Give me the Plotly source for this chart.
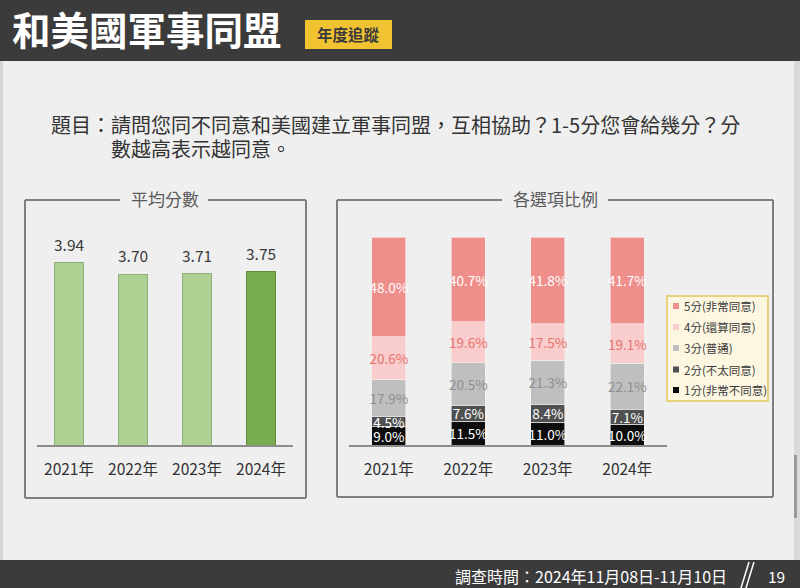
import plotly.graph_objects as go

# ---------------- data ----------------
years = ["2021年", "2022年", "2023年", "2024年"]
avg_scores = [3.94, 3.70, 3.71, 3.75]

option_names = ["1分(非常不同意)", "2分(不太同意)", "3分(普通)", "4分(還算同意)", "5分(非常同意)"]
pct_1 = [9.0, 11.5, 11.0, 10.0]
pct_2 = [4.5, 7.6, 8.4, 7.1]
pct_3 = [17.9, 20.5, 21.3, 22.1]
pct_4 = [20.6, 19.6, 17.5, 19.1]
pct_5 = [48.0, 40.7, 41.8, 41.7]

title_text = "和美國軍事同盟"
tag_text = "年度追蹤"
question_line1 = "題目：請問您同不同意和美國建立軍事同盟，互相協助？1-5分您會給幾分？分"
question_line2 = "數越高表示越同意。"
left_title = "平均分數"
right_title = "各選項比例"
footer_text = "調查時間：2024年11月08日-11月10日"
page_no = "19"

# ---------------- styles ----------------
W, H = 800, 588
FONT = "Noto Sans CJK TC, Noto Sans, sans-serif"
BG = "#efefef"
DARK = "#3b3b3b"
seg_colors = ["#0d0d0d", "#505050", "#bfbfbf", "#f8cdcc", "#ef8f8c"]
seg_text_colors = ["#ffffff", "#ffffff", "#8f8f8f", "#e7716f", "#ffffff"]
avg_colors = ["#aed193", "#aed193", "#aed193", "#79ab50"]
avg_line_colors = ["#8fb078", "#8fb078", "#8fb078", "#5f8d3e"]


def px(x):
    return x / W


def py(y):
    return 1 - y / H


fig = go.Figure()

# left: average score bars
fig.add_trace(go.Bar(
    x=years, y=avg_scores, width=0.44,
    marker=dict(color=avg_colors, line=dict(color=avg_line_colors, width=1)),
    xaxis="x", yaxis="y", showlegend=False, hoverinfo="x+y",
))

# right: stacked percentages
series = [pct_1, pct_2, pct_3, pct_4, pct_5]
for name, vals, col, tcol in zip(option_names, series, seg_colors, seg_text_colors):
    fig.add_trace(go.Bar(
        x=years, y=vals, name=name, width=0.43,
        marker=dict(color=col, line=dict(color="#f4f4f4", width=0.6)),
        text=[f"{v:.1f}%" for v in vals], texttemplate="%{text}",
        textposition="inside", insidetextanchor="middle", textangle=0,
        textfont=dict(color=tcol, size=13.5, family=FONT),
        xaxis="x2", yaxis="y2", showlegend=False,
    ))

shapes = []
annotations = []

# header / footer bars
shapes.append(dict(type="rect", xref="paper", yref="paper", x0=0, x1=1, y0=py(61), y1=1,
                   fillcolor=DARK, line=dict(width=0), layer="below"))
shapes.append(dict(type="rect", xref="paper", yref="paper", x0=0, x1=1, y0=0, y1=py(560),
                   fillcolor=DARK, line=dict(width=0), layer="below"))
# edge strips
shapes.append(dict(type="rect", xref="paper", yref="paper", x0=0, x1=px(3), y0=py(560), y1=py(61),
                   fillcolor="#d6d6d6", line=dict(width=0), layer="below"))
shapes.append(dict(type="rect", xref="paper", yref="paper", x0=px(794), x1=1, y0=py(560), y1=py(61),
                   fillcolor="#dadada", line=dict(width=0), layer="below"))
shapes.append(dict(type="rect", xref="paper", yref="paper", x0=px(794), x1=px(797), y0=py(518), y1=py(455),
                   fillcolor="#9a9a9a", line=dict(width=0), layer="below"))
# tag box
shapes.append(dict(type="rect", xref="paper", yref="paper", x0=px(305), x1=px(392), y0=py(49), y1=py(20),
                   fillcolor="#f1c232", line=dict(width=0)))

annotations.append(dict(text=f"<b>{title_text}</b>", x=px(10), y=py(28), xref="paper", yref="paper",
                        xanchor="left", yanchor="middle", showarrow=False,
                        font=dict(size=38.5, color="#ffffff", family=FONT)))
annotations.append(dict(text=f"<b>{tag_text}</b>", x=px(348.5), y=py(34.5), xref="paper", yref="paper",
                        xanchor="center", yanchor="middle", showarrow=False,
                        font=dict(size=15.5, color="#3a3a3a", family=FONT)))

# question
annotations.append(dict(text=question_line1, x=px(49), y=py(124), xref="paper", yref="paper",
                        xanchor="left", yanchor="middle", showarrow=False,
                        font=dict(size=20, color="#333333", family=FONT)))
annotations.append(dict(text=question_line2, x=px(109), y=py(148), xref="paper", yref="paper",
                        xanchor="left", yanchor="middle", showarrow=False,
                        font=dict(size=20, color="#333333", family=FONT)))

# panel boxes with title gaps
BOX = dict(color="#7f7f7f", width=2)


def panel(x0, x1, y0, y1, g0, g1):
    segs = [(x0, y0, x0, y1), (x0, y1, x1, y1), (x1, y1, x1, y0), (x0, y0, g0, y0), (g1, y0, x1, y0)]
    for a, b, c, d in segs:
        shapes.append(dict(type="line", xref="paper", yref="paper", x0=px(a), y0=py(b), x1=px(c), y1=py(d),
                           line=BOX))


panel(25, 306, 200, 498, 120, 208)
panel(337, 773, 200, 497, 502, 608)
annotations.append(dict(text=left_title, x=px(165), y=py(198), xref="paper", yref="paper",
                        xanchor="center", yanchor="middle", showarrow=False,
                        font=dict(size=17, color="#5a5a5a", family=FONT)))
annotations.append(dict(text=right_title, x=px(555), y=py(198), xref="paper", yref="paper",
                        xanchor="center", yanchor="middle", showarrow=False,
                        font=dict(size=17, color="#5a5a5a", family=FONT)))

# average value labels
for yr, v in zip(years, avg_scores):
    annotations.append(dict(text=f"{v:.2f}", x=yr, y=v, xref="x", yref="y", xanchor="center",
                            yanchor="bottom", yshift=6, showarrow=False,
                            font=dict(size=15.5, color="#3a3a3a", family=FONT)))

# legend (manual)
shapes.append(dict(type="rect", xref="paper", yref="paper", x0=px(667), x1=px(768), y0=py(401), y1=py(296),
                   fillcolor="#fdf7e2", line=dict(color="#e8d37c", width=2)))
legend_rows = [306, 327, 348, 369.5, 390]
for i, (name, col) in enumerate(zip(option_names[::-1], seg_colors[::-1])):
    yy = legend_rows[i]
    shapes.append(dict(type="rect", xref="paper", yref="paper", x0=px(673), x1=px(679),
                       y0=py(yy + 3), y1=py(yy - 3), fillcolor=col, line=dict(width=0)))
    annotations.append(dict(text=name, x=px(682), y=py(yy), xref="paper", yref="paper",
                            xanchor="left", yanchor="middle", showarrow=False,
                            font=dict(size=11.5, color="#3a3a3a", family=FONT)))

# footer
annotations.append(dict(text=footer_text, x=px(729), y=py(576), xref="paper", yref="paper",
                        xanchor="right", yanchor="middle", showarrow=False,
                        font=dict(size=16, color="#ffffff", family=FONT)))
annotations.append(dict(text=page_no, x=px(776), y=py(576), xref="paper", yref="paper",
                        xanchor="center", yanchor="middle", showarrow=False,
                        font=dict(size=15.5, color="#ffffff", family=FONT)))
for dx in (0, 5):
    shapes.append(dict(type="line", xref="paper", yref="paper", x0=px(741 + dx), y0=py(588),
                       x1=px(749 + dx), y1=py(562), line=dict(color="#ffffff", width=1.5)))

axis_common = dict(type="category", range=[-0.5, 3.5], showline=True, linecolor="#8c8c8c", linewidth=1.5,
                   showgrid=False, zeroline=False, ticks="", ticklabelstandoff=10,
                   tickfont=dict(size=15.5, color="#333333", family=FONT), fixedrange=True)

fig.update_layout(
    width=W, height=H, margin=dict(l=0, r=0, t=0, b=0),
    paper_bgcolor=BG, plot_bgcolor="rgba(0,0,0,0)",
    barmode="stack", showlegend=False,
    font=dict(family=FONT),
    uniformtext=dict(minsize=13.5, mode="show"),
    xaxis=dict(domain=[px(37), px(293)], anchor="y", **axis_common),
    yaxis=dict(domain=[py(445), py(215)], range=[0, 230 / 46.2], visible=False, fixedrange=True),
    xaxis2=dict(domain=[px(349), px(667)], anchor="y2", **axis_common),
    yaxis2=dict(domain=[py(445), py(237)], range=[0, 100], visible=False, fixedrange=True),
    shapes=shapes, annotations=annotations,
)

fig.write_html(
    "out.html",
    config={"displayModeBar": False},
    post_script="document.body.style.margin='0';document.body.style.overflow='hidden';",
)
